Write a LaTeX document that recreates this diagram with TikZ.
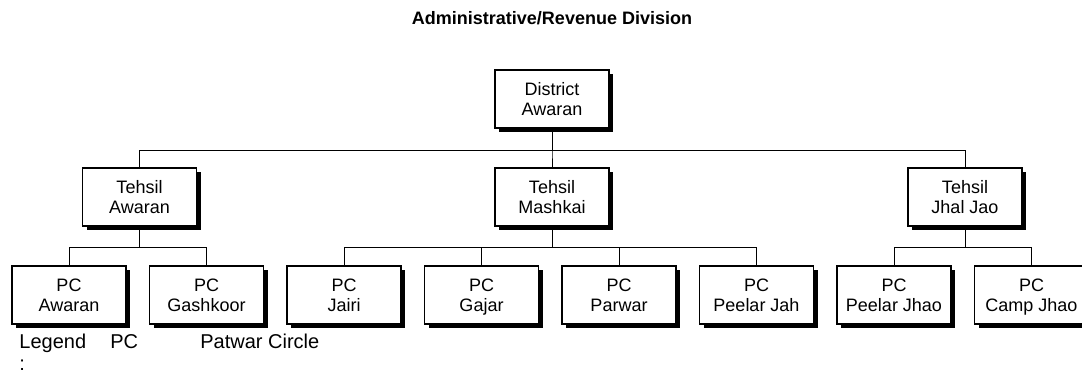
\documentclass[tikz,border=0pt]{standalone}
\usepackage{fontspec}
\setmainfont{Liberation Sans}
\newcommand{\boxstrut}{\rule[-2pt]{0pt}{10.4pt}}
\newcommand{\twolines}[2]{\boxstrut#1\\\boxstrut#2}
\tikzset{unit box/.style={draw, line width=0.6pt, fill=white, minimum width=57pt, minimum height=29pt, align=center, inner sep=0pt, font=\fontsize{9}{10.4}\selectfont, preaction={fill=black, transform canvas={xshift=2.2pt, yshift=-2.2pt}}}}
\tikzset{link/.style={line width=0.5pt}}
\tikzset{legend text/.style={inner sep=0pt, font=\fontsize{10}{11}\selectfont}}

\begin{document}
\begin{tikzpicture}[x=0.5pt, y=-0.5pt]
\useasboundingbox (0,0) rectangle (1082,372);
\node[font=\fontsize{9}{10.5}\selectfont\bfseries] (title) at (552,18) {Administrative/Revenue Division};
\node[unit box] (dist) at (552,99) {\twolines{District}{Awaran}};
\node[unit box] (tAwaran) at (139.5,197) {\twolines{Tehsil}{Awaran}};
\node[unit box] (tMashkai) at (552,197) {\twolines{Tehsil}{Mashkai}};
\node[unit box] (tJhal) at (965,197) {\twolines{Tehsil}{Jhal Jao}};
\node[unit box] (pcAwaran) at (69,295) {\twolines{PC}{Awaran}};
\node[unit box] (pcGashkoor) at (206.5,295) {\twolines{PC}{Gashkoor}};
\node[unit box] (pcJairi) at (344,295) {\twolines{PC}{Jairi}};
\node[unit box] (pcGajar) at (481.5,295) {\twolines{PC}{Gajar}};
\node[unit box] (pcParwar) at (619,295) {\twolines{PC}{Parwar}};
\node[unit box] (pcPeelarJah) at (756.5,295) {\twolines{PC}{Peelar Jah}};
\node[unit box] (pcPeelarJhao) at (894,295) {\twolines{PC}{Peelar Jhao}};
\node[unit box] (pcCamp) at (1031.5,295) {\twolines{PC}{Camp Jhao}};
\draw[link] (dist.south) -- ++(0,22) -| (tAwaran.north);
\draw[link] (dist.south) -- ++(0,22) -| (tMashkai.north);
\draw[link] (dist.south) -- ++(0,22) -| (tJhal.north);
\draw[link] (tAwaran.south) -- ++(0,21) -| (pcAwaran.north);
\draw[link] (tAwaran.south) -- ++(0,21) -| (pcGashkoor.north);
\draw[link] (tMashkai.south) -- ++(0,21) -| (pcJairi.north);
\draw[link] (tMashkai.south) -- ++(0,21) -| (pcGajar.north);
\draw[link] (tMashkai.south) -- ++(0,21) -| (pcParwar.north);
\draw[link] (tMashkai.south) -- ++(0,21) -| (pcPeelarJah.north);
\draw[link] (tJhal.south) -- ++(0,21) -| (pcPeelarJhao.north);
\draw[link] (tJhal.south) -- ++(0,21) -| (pcCamp.north);
\node[legend text, anchor=north west, align=left] (legend) at (19,333.5) {Legend\\:};
\node[legend text, anchor=base west] (legendPC) at (110,348) {PC};
\node[legend text, anchor=base west] (legendName) at (200,348) {Patwar Circle};
\end{tikzpicture}
\end{document}
